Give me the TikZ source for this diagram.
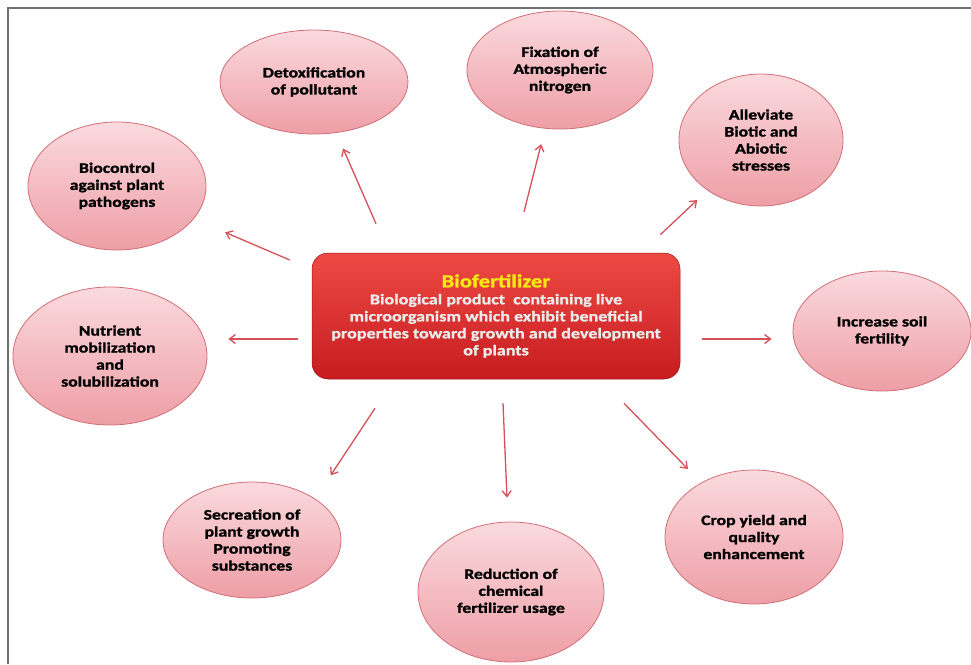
\documentclass[tikz,border=0pt]{standalone}
\usepackage{fontspec}
\setmainfont{Carlito}[FakeStretch=1.22, BoldFeatures={FakeBold=1.3}]
\usepackage{tikz}
\usetikzlibrary{arrows.meta, positioning, calc, shapes}
\usepackage{xcolor}
\definecolor{petal}{RGB}{250,218,222}
\definecolor{petaldeep}{RGB}{238,158,166}
\definecolor{petaledge}{RGB}{208,110,118}
\definecolor{hubtop}{RGB}{238,74,68}
\definecolor{hubbot}{RGB}{198,28,32}
\definecolor{arrowred}{RGB}{214,80,90}
\definecolor{titleyellow}{RGB}{246,232,20}
\definecolor{framegray}{RGB}{112,112,112}

\begin{document}
\begin{tikzpicture}[x=1pt, y=-1pt,
  benefit/.style={ellipse, draw=petaledge, line width=0.8pt, top color=petal, bottom color=petaldeep, align=center, inner sep=0pt, font=\fontsize{14.5}{17}\selectfont\bfseries},
  hubbox/.style={rectangle, rounded corners=16pt, top color=hubtop, bottom color=hubbot, draw=hubbot!80!black, line width=0.5pt, align=center, inner sep=0pt, font=\fontsize{14.8}{17}\selectfont\bfseries, text=white!92!black},
  arr/.style={-{Straight Barb[length=6pt, width=9pt]}, draw=arrowred, line width=1.3pt}]
  \useasboundingbox (0,0) rectangle (971,664);
  \draw[framegray, line width=2pt] (971,8) -- (8,8) -- (8,664);

  \node[hubbox, minimum width=368, minimum height=126] (hub) at (496,316) {{\color{titleyellow}\fontsize{18.5}{19}\selectfont Biofertilizer}\\Biological product\ \ containing live\\microorganism which exhibit beneficial\\properties toward growth and development\\of plants};

  \node[benefit, minimum width=188, minimum height=104] (detox) at (314,82) {Detoxification\\of pollutant};
  \node[benefit, minimum width=186, minimum height=118] (fix) at (560,70) {Fixation of\\Atmospheric\\nitrogen};
  \node[benefit, minimum width=164, minimum height=132] (stress) at (761,140) {Alleviate\\Biotic and\\Abiotic\\stresses};
  \node[benefit, minimum width=178, minimum height=128] (bioctl) at (117,186) {Biocontrol\\against plant\\pathogens};
  \node[benefit, minimum width=194, minimum height=138] (nutr) at (110,356) {Nutrient\\mobilization\\and\\solubilization};
  \node[benefit, minimum width=178, minimum height=120] (soil) at (882,331) {Increase soil\\fertility};
  \node[benefit, minimum width=178, minimum height=116] (secr) at (252,540) {Secreation of\\plant growth\\Promoting\\substances};
  \node[benefit, minimum width=186, minimum height=140] (reduc) at (511,592) {Reduction of\\chemical\\fertilizer usage};
  \node[benefit, minimum width=178, minimum height=134] (crop) at (754,537) {Crop yield and\\quality\\enhancement};

  \draw[arr, shorten >=17pt] ([xshift=-120pt, yshift=29pt]hub.north) -- (detox);
  \draw[arr, shorten >=16pt] ([xshift=28pt, yshift=41pt]hub.north) -- (fix);
  \draw[arr, shorten >=14pt] ([xshift=-20pt, yshift=18pt]hub.north east) -- (stress);
  \draw[arr, shorten >=34pt] ([xshift=-22pt, yshift=56pt]hub.west) -- (bioctl);
  \draw[arr, shorten >=21pt] ([xshift=-14pt, yshift=-23pt]hub.west) -- ([yshift=17pt]nutr.east);
  \draw[arr, shorten >=21pt] ([xshift=22pt, yshift=-23pt]hub.east) -- ([yshift=-8pt]soil.west);
  \draw[arr, shorten >=28pt] ([xshift=-121pt, yshift=-29pt]hub.south) -- (secr.north east);
  \draw[arr, shorten >=24pt] ([xshift=7pt, yshift=-24pt]hub.south) -- (reduc);
  \draw[arr, shorten >=19pt] ([xshift=128pt, yshift=-24pt]hub.south) -- (crop);
\end{tikzpicture}
\end{document}
